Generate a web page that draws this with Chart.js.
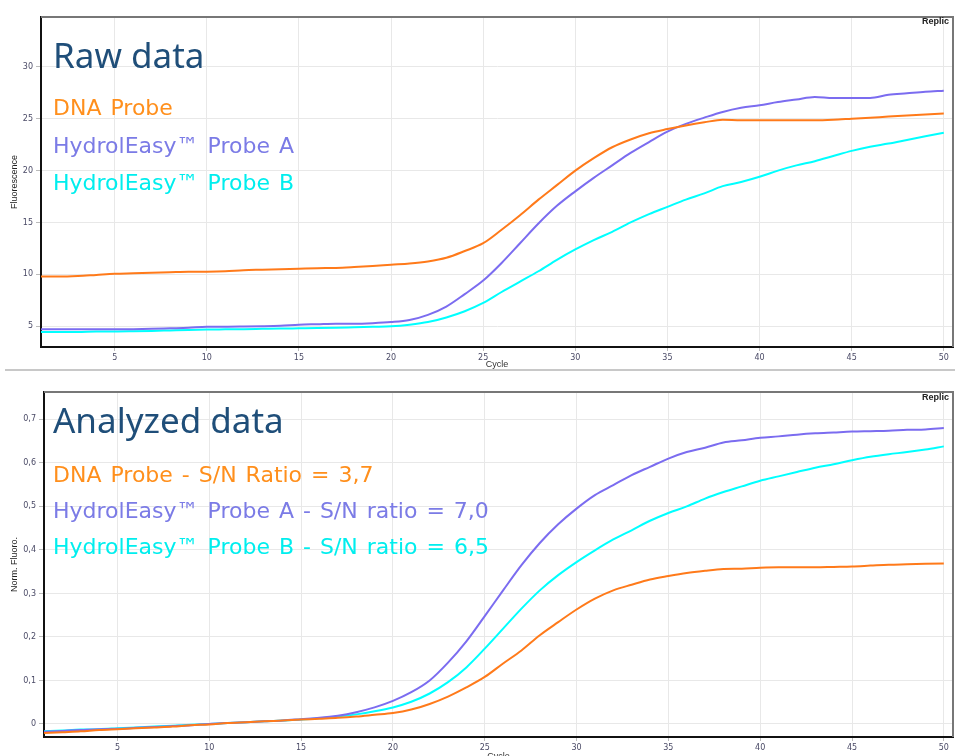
<!DOCTYPE html>
<html>
<head>
<meta charset="utf-8">
<script src="https://cdn.jsdelivr.net/npm/chart.js@4.4.1/dist/chart.umd.min.js"></script>
<style>
  html, body { margin: 0; padding: 0; background: #fff; overflow: hidden; }
  #wrap { position: relative; width: 955px; height: 756px; }
  #rawBox { position: absolute; left: 0; top: 0; }
  #normBox { position: absolute; left: 0; top: 370px; }
  #sep { position: absolute; left: 5px; top: 369px; width: 950px; height: 2px; background: #c8c8c8; }
</style>
</head>
<body>
<div id="wrap">
  <div id="rawBox"><canvas id="rawChart" width="955" height="370"></canvas></div>
  <div id="sep"></div>
  <div id="normBox"><canvas id="normChart" width="955" height="396"></canvas></div>
</div>
<script>
// cycles 1..50
const cycles = [1,2,3,4,5,6,7,8,9,10,11,12,13,14,15,16,17,18,19,20,21,22,23,24,25,26,27,28,29,30,31,32,33,34,35,36,37,38,39,40,41,42,43,44,45,46,47,48,49,50]
const xTicks = [5,10,15,20,25,30,35,40,45,50]

const seriesNames = ['DNA Probe', 'HydrolEasy™ Probe A', 'HydrolEasy™ Probe B']
const analyzedNames = ['DNA Probe - S/N Ratio = 3,7', 'HydrolEasy™ Probe A - S/N ratio = 7,0', 'HydrolEasy™ Probe B - S/N ratio = 6,5']

// raw fluorescence
const rawDna = [9.8,9.8,9.85,9.95,10.05,10.1,10.15,10.2,10.25,10.26,10.3,10.4,10.45,10.5,10.55,10.6,10.62,10.7,10.8,10.93,11.05,11.25,11.6,12.25,13.0,14.3,15.7,17.2,18.6,20.0,21.2,22.25,23.0,23.6,24.0,24.35,24.65,24.9,24.85,24.85,24.85,24.85,24.85,24.9,25.0,25.1,25.2,25.3,25.4,25.5]
const rawProbeA = [4.7,4.7,4.7,4.7,4.7,4.72,4.75,4.8,4.85,4.95,4.95,4.97,5.0,5.05,5.15,5.2,5.25,5.25,5.3,5.4,5.6,6.1,6.9,8.1,9.4,11.1,13.0,14.9,16.6,18.0,19.3,20.5,21.7,22.75,23.75,24.5,25.1,25.65,26.05,26.3,26.6,26.85,27.1,27.0,27.0,27.0,27.3,27.45,27.6,27.7]
const rawProbeB = [4.45,4.45,4.45,4.5,4.5,4.52,4.55,4.6,4.65,4.68,4.7,4.72,4.75,4.78,4.8,4.82,4.85,4.9,4.95,5.0,5.15,5.4,5.85,6.45,7.25,8.3,9.3,10.3,11.4,12.4,13.3,14.1,15.0,15.8,16.5,17.2,17.8,18.5,18.9,19.4,20.0,20.5,20.9,21.4,21.9,22.3,22.6,22.95,23.3,23.65]
const rawYTicks = [5,10,15,20,25,30]

// normalised fluorescence
const normDna = [-0.021,-0.019,-0.017,-0.014,-0.012,-0.010,-0.008,-0.006,-0.003,-0.001,0.002,0.004,0.006,0.008,0.010,0.012,0.014,0.017,0.021,0.025,0.033,0.046,0.063,0.084,0.108,0.139,0.169,0.204,0.234,0.263,0.288,0.307,0.320,0.332,0.340,0.347,0.352,0.356,0.357,0.359,0.360,0.360,0.360,0.361,0.362,0.364,0.366,0.367,0.368,0.369]
const normProbeA = [-0.018,-0.016,-0.014,-0.012,-0.011,-0.009,-0.007,-0.005,-0.003,0.000,0.002,0.004,0.006,0.008,0.011,0.014,0.019,0.027,0.038,0.053,0.073,0.100,0.141,0.190,0.248,0.307,0.365,0.416,0.459,0.495,0.526,0.549,0.572,0.591,0.610,0.625,0.635,0.647,0.652,0.658,0.661,0.665,0.668,0.670,0.672,0.673,0.674,0.676,0.677,0.680]
const normProbeB = [-0.017,-0.015,-0.013,-0.012,-0.010,-0.008,-0.006,-0.004,-0.002,0.000,0.002,0.004,0.006,0.008,0.010,0.013,0.017,0.022,0.029,0.038,0.051,0.070,0.096,0.130,0.173,0.219,0.265,0.307,0.342,0.372,0.399,0.424,0.445,0.467,0.485,0.500,0.518,0.533,0.546,0.559,0.569,0.579,0.589,0.597,0.606,0.614,0.620,0.625,0.631,0.638]
const normYTicks = [0,0.1,0.2,0.3,0.4,0.5,0.6,0.7]

const lineColors = ['#ff7a1a', '#7b6cf0', '#00ffff']
const textColors = ['#ff8f1c', '#7b7be6', '#00eeee']

const overlay = {
    id: 'overlay',
    afterDraw(chart, args, opts) {
        const { ctx, chartArea } = chart
        ctx.save()
        // top and right frame
        ctx.strokeStyle = '#777'
        ctx.lineWidth = 2
        ctx.beginPath()
        ctx.moveTo(chartArea.left, chartArea.top)
        ctx.lineTo(chartArea.right, chartArea.top)
        ctx.lineTo(chartArea.right, chartArea.bottom)
        ctx.stroke()
        // clipped legend box text
        ctx.fillStyle = '#222'
        ctx.font = 'bold 9px "Liberation Sans"'
        ctx.textBaseline = 'middle'
        ctx.fillText('Replic', chartArea.right - 31, chartArea.top + opts.replicDy)
        // big title + coloured series names
        ctx.textBaseline = 'alphabetic'
        const x = 53
        ctx.fillStyle = '#1f4e79'
        ctx.font = '35px "Noto Sans"'
        ctx.fillText(opts.title, x, chartArea.top + opts.titleDy)
        ctx.font = '22px "DejaVu Sans"'
        ctx.wordSpacing = '2px'
        opts.names.forEach((name, i) => {
            ctx.fillStyle = textColors[i]
            ctx.fillText(name, x, chartArea.top + opts.nameDy[i])
        })
        ctx.restore()
    }
}

function makeDatasets(series) {
    return series.map((vals, i) => ({
        data: vals,
        borderColor: lineColors[i],
        borderWidth: 2,
        pointRadius: 0,
        cubicInterpolationMode: 'monotone',
        fill: false
    }))
}

function axisOpts(cfg) {
    return {
        x: {
            type: 'linear',
            min: 1,
            max: 50.5,
            afterBuildTicks: s => { s.ticks = xTicks.map(v => ({ value: v })) },
            afterFit: s => { s.height = cfg.xHeight },
            border: { color: '#111', width: 2 },
            grid: { color: '#e8e8e8', tickColor: '#bbb', tickLength: 4 },
            ticks: { font: { family: 'DejaVu Sans', size: 8 }, color: '#4a4a66', padding: 2, maxRotation: 0 },
            title: { display: true, text: 'Cycle', font: { family: 'Liberation Sans', size: 9 }, color: '#333', padding: { top: 0, bottom: cfg.cyclePad } }
        },
        y: {
            min: cfg.yMin,
            max: cfg.yMax,
            afterBuildTicks: s => { s.ticks = cfg.yTicks.map(v => ({ value: v })) },
            afterFit: s => { s.width = cfg.yWidth },
            border: { color: '#111', width: 2 },
            grid: { color: '#e8e8e8', tickColor: '#bbb', tickLength: 5 },
            ticks: {
                font: { family: 'DejaVu Sans', size: 8 }, color: '#4a4a66', padding: 3,
                callback: v => v === 0 ? '0' : cfg.fmt(v)
            },
            title: { display: true, text: cfg.yTitle, font: { family: 'Liberation Sans', size: 9 }, color: '#222', padding: { top: 9, bottom: 0 } }
        }
    }
}

new Chart(document.getElementById('rawChart'), {
    type: 'line',
    data: { labels: cycles, datasets: makeDatasets([rawDna, rawProbeA, rawProbeB]) },
    options: {
        responsive: false,
        animation: false,
        devicePixelRatio: 1,
        layout: { padding: { top: 17, right: 2, left: 0, bottom: 0 } },
        plugins: {
            legend: { display: false },
            tooltip: { enabled: false },
            overlay: { title: 'Raw data', titleDy: 51, names: seriesNames, nameDy: [98, 135.7, 173], replicDy: 5 }
        },
        scales: axisOpts({ xHeight: 23, yWidth: 41, yMin: 3, yMax: 34.8, yTicks: rawYTicks, yTitle: 'Fluorescence', fmt: v => String(v), cyclePad: 0 })
    },
    plugins: [overlay]
})

new Chart(document.getElementById('normChart'), {
    type: 'line',
    data: { labels: cycles, datasets: makeDatasets([normDna, normProbeA, normProbeB]) },
    options: {
        responsive: false,
        animation: false,
        devicePixelRatio: 1,
        layout: { padding: { top: 22, right: 2, left: 0, bottom: 0 } },
        plugins: {
            legend: { display: false },
            tooltip: { enabled: false },
            overlay: { title: 'Analyzed data', titleDy: 41.3, names: analyzedNames, nameDy: [90.3, 125.7, 162], replicDy: 6 }
        },
        scales: axisOpts({ xHeight: 29, yWidth: 44, yMin: -0.03, yMax: 0.763, yTicks: normYTicks, yTitle: 'Norm. Fluoro.', fmt: v => v.toFixed(1).replace('.', ','), cyclePad: 4 })
    },
    plugins: [overlay]
})
</script>
</body>
</html>
